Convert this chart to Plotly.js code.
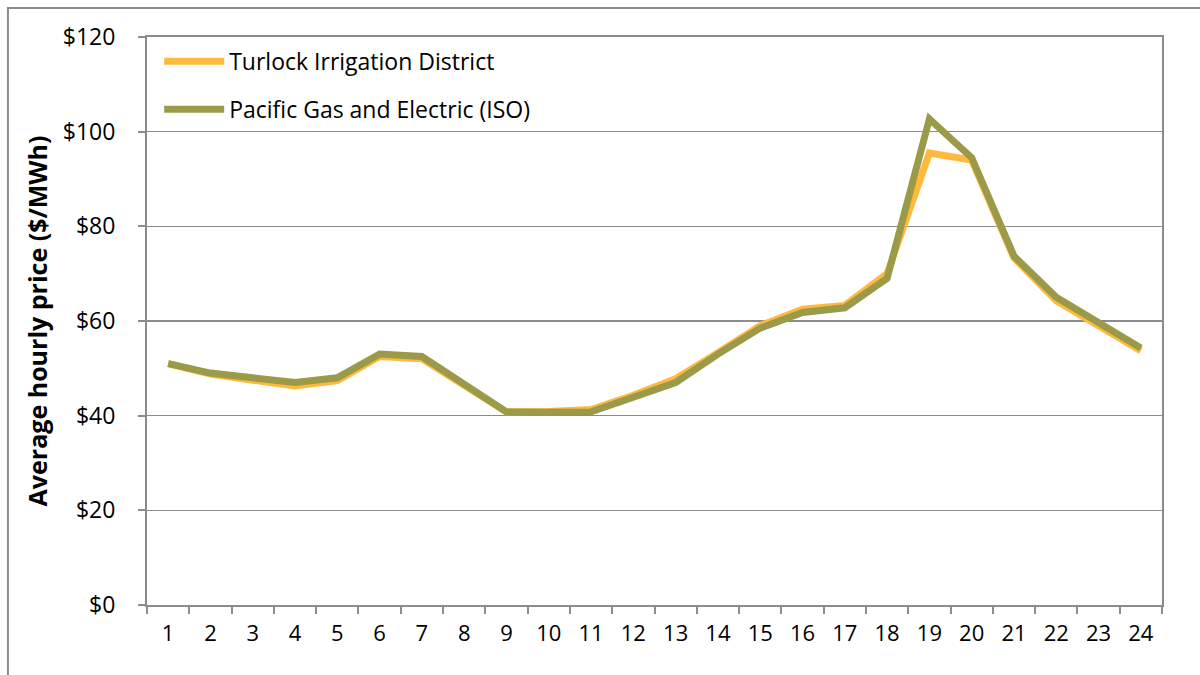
<!DOCTYPE html>
<html>
<head>
<meta charset="utf-8">
<script src="https://cdn.plot.ly/plotly-3.0.1.min.js"></script>
<style>
  html, body { margin: 0; padding: 0; background: #fff; }
  #chart { width: 1200px; height: 675px; }
</style>
</head>
<body>
<div id="chart"></div>
<script>
const hours = ['1','2','3','4','5','6','7','8','9','10','11','12','13','14','15','16','17','18','19','20','21','22','23','24'];
const turlock = [51.0, 48.8, 47.5, 46.3, 47.4, 52.5, 52.0, 46.3, 40.8, 40.9, 41.3, 44.3, 47.8, 53.3, 59.0, 62.5, 63.3, 70.0, 95.5, 94.0, 73.3, 64.3, 59.0, 53.7];
const pge = [51.0, 49.0, 48.0, 47.0, 48.0, 53.0, 52.5, 46.5, 40.8, 40.7, 40.8, 43.9, 47.0, 53.0, 58.5, 61.8, 62.8, 69.0, 102.7, 94.5, 73.7, 65.0, 59.5, 54.3];
const seriesNames = ['Turlock Irrigation District', 'Pacific Gas and Electric (ISO)'];
const yTicks = [0, 20, 40, 60, 80, 100, 120];
const yTickText = ['$0', '$20', '$40', '$60', '$80', '$100', '$120'];

const FONT = '"Open Sans", "Noto Sans", "Liberation Sans", sans-serif';

const traces = [
  {
    x: hours, y: turlock, name: seriesNames[0], type: 'scatter', mode: 'lines',
    line: { color: '#FFB93C', width: 7 }, legendgroup: 'a'
  },
  {
    x: hours, y: pge, name: seriesNames[1], type: 'scatter', mode: 'lines',
    line: { color: '#9A9A48', width: 7 }, legendgroup: 'b'
  }
];

const layout = {
  width: 1200, height: 675,
  margin: { l: 147, r: 38, t: 37, b: 70 },
  paper_bgcolor: '#fff', plot_bgcolor: '#fff',
  font: { family: FONT, size: 22, color: '#000' },
  showlegend: true,
  legend: {
    x: 0.012, y: 0.995, xanchor: 'left', yanchor: 'top',
    bgcolor: 'rgba(0,0,0,0)', font: { family: FONT, size: 23, color: '#000' },
    tracegroupgap: 15, itemwidth: 60
  },
  xaxis: {
    type: 'category', range: [-0.5, 23.5],
    showline: true, linecolor: '#8c8c8c', linewidth: 2, mirror: true,
    ticks: 'outside', tickson: 'boundaries', ticklen: 7, tickcolor: '#8c8c8c', tickwidth: 2,
    showgrid: false, zeroline: false, ticklabelstandoff: 8,
    tickfont: { family: FONT, size: 22, color: '#000' }
  },
  yaxis: {
    range: [0, 120], tickmode: 'array', tickvals: yTicks, ticktext: yTickText,
    showline: true, linecolor: '#8c8c8c', linewidth: 2, mirror: true,
    ticks: 'outside', ticklen: 7, tickcolor: '#8c8c8c', tickwidth: 2,
    showgrid: true, gridcolor: '#8c8c8c', gridwidth: 1.5, zeroline: false,
    ticklabelstandoff: 18,
    tickfont: { family: FONT, size: 23, color: '#000' },
    title: { text: '<b>Average hourly price ($/MWh)</b>', font: { family: FONT, size: 25, color: '#000' }, standoff: 8 }
  },
  shapes: [
    {
      type: 'rect', xref: 'paper', yref: 'paper',
      x0: -0.137, x1: 1.2, y0: -0.3, y1: 1.051,
      line: { color: '#8c8c8c', width: 2 }, fillcolor: 'rgba(0,0,0,0)', layer: 'below'
    }
  ]
};

Plotly.newPlot('chart', traces, layout, { displayModeBar: false, staticPlot: true });
</script>
</body>
</html>
